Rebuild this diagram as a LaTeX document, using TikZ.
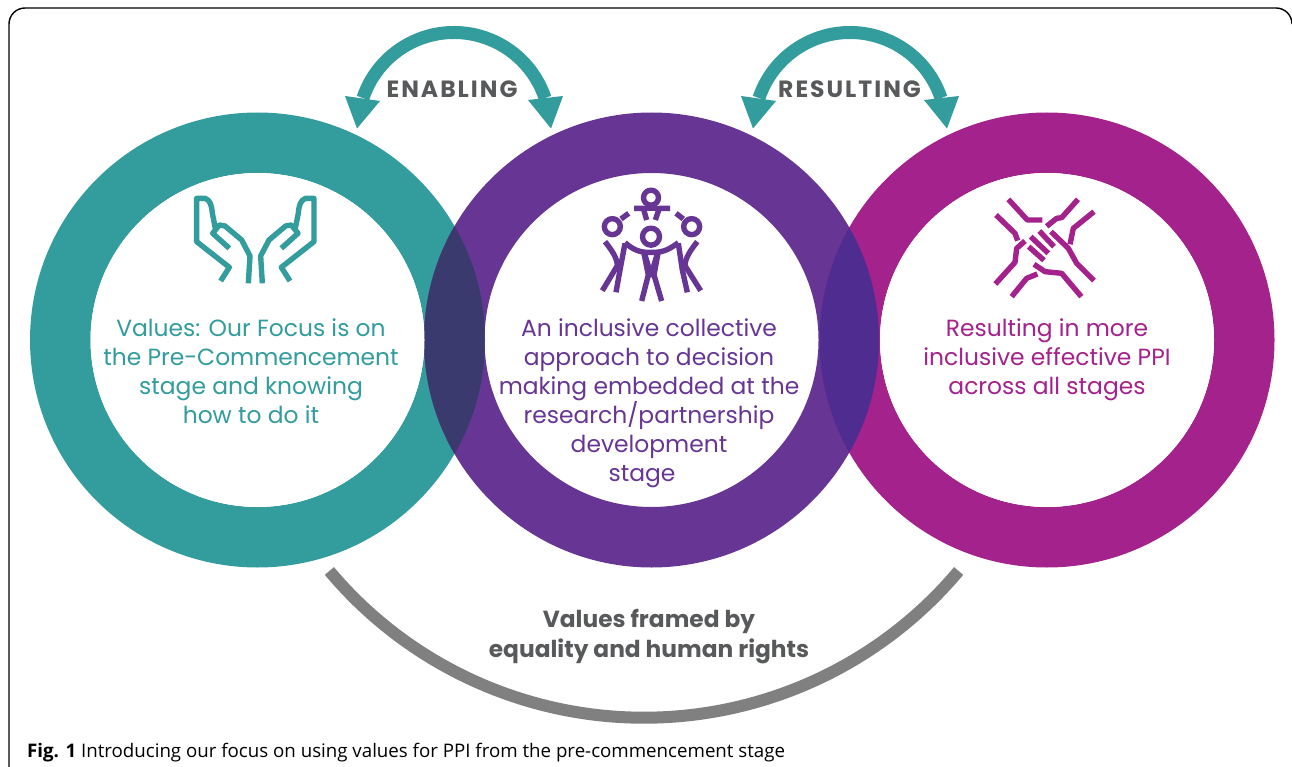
\documentclass[tikz,border=0pt]{standalone}
\usepackage{fontspec}
\setmainfont{Poppins}
\newfontfamily\capfont{Open Sans}
\newfontfamily\spacedfont[LetterSpace=8.5,BoldFont=Poppins Bold]{Poppins}
\definecolor{tealc}{HTML}{339C9C}
\definecolor{purpc}{HTML}{673695}
\definecolor{magc}{HTML}{A3228C}
\definecolor{tealpurp}{HTML}{3B3A6E}
\definecolor{purpmag}{HTML}{4F2C8F}
\definecolor{grayarc}{HTML}{808080}
\definecolor{graytext}{HTML}{58595B}
\tikzset{
  ringteal/.style={fill=tealc,even odd rule},
  ringpurp/.style={fill=purpc,even odd rule},
  ringmag/.style={fill=magc,even odd rule},
  bodytext/.style={align=center,inner sep=0pt,font=\fontsize{23.4}{29}\selectfont},
  labeltext/.style={align=center,inner sep=0pt,text=graytext,font=\fontsize{23.3}{30}\selectfont\bfseries},
  capstext/.style={inner sep=0pt,text=graytext,font=\spacedfont\fontsize{23.5}{30}\selectfont\bfseries},
  icon/.style={line width=5.4pt,line join=round,line cap=butt},
  bandarrow/.style={line width=13pt,tealc},
}
\begin{document}
\begin{tikzpicture}[x=1pt,y=-1pt]
\useasboundingbox (0,0) rectangle (1292,767);
\fill[white] (0,0) rectangle (1292,767);
% frame
\draw[line width=1.4pt,black] (9,767) -- (9,24) arc[start angle=180,end angle=90,radius=16pt] -- (1276,8) arc[start angle=90,end angle=0,radius=16pt];
% rings
\path[ringteal] (257.5,340) circle[radius=227.5pt] (257.5,340) circle[radius=167pt];
\path[ringpurp] (651.5,340) circle[radius=227.5pt] (651.5,340) circle[radius=167pt];
\path[ringmag] (1047,340) circle[radius=227.5pt] (1047,340) circle[radius=167pt];
\begin{scope}
\clip (257.5,340) circle[radius=227.5pt];
\fill[tealpurp,even odd rule] (651.5,340) circle[radius=227.5pt] (651.5,340) circle[radius=167pt];
\end{scope}
\begin{scope}
\clip (1047,340) circle[radius=227.5pt];
\fill[purpmag,even odd rule] (651.5,340) circle[radius=227.5pt] (651.5,340) circle[radius=167pt];
\end{scope}
% re-whiten the interior of the outer rings
\fill[white] (1047,340) circle[radius=167pt];
\fill[white] (257.5,340) circle[radius=167pt];
% band arrows
\foreach \dx/\nm in {0/a,396/b}{
\begin{scope}[xshift=\dx pt]
\coordinate (c\nm) at (454,128.5);
\draw[bandarrow] (c\nm) ++(161.5:96pt) arc[start angle=161.5,end angle=18.5,radius=96pt];
\fill[tealc] (345,96) -- (380,101) -- (357,128.5) -- cycle;
\fill[tealc] (528,100) -- (563,96) -- (551,128.5) -- cycle;
\end{scope}}
% gray arc
\coordinate (gc) at (644,307);
\draw[line width=12pt,grayarc] (gc) ++(220:410.7pt) arc[start angle=220,end angle=320,radius=410.7pt];
% text
\node[bodytext,text=tealc] (t1) at (251,371.5) {Values: Our Focus is on\\the Pre-Commencement\\stage and knowing\\how to do it};
\node[bodytext,text=purpc] (t2) at (649,403.5) {An inclusive collective\\approach to decision\\making embedded at the\\research/partnership\\development\\\hspace*{-14pt}stage};
\node[bodytext,text=magc] (t3) at (1047,359.5) {Resulting in more\\inclusive effective PPI\\across all stages};
\node[capstext] (l1) at (452,89) {ENABLING};
\node[capstext] (l2) at (849.5,89) {RESULTING};
\node[labeltext] (l3) at (649,636.5) {Values framed by\\equality and human rights};
\node[anchor=base west,inner sep=0pt,font=\capfont\fontsize{18.7}{24}\selectfont] (cap) at (27,757) {\textbf{Fig. 1} Introducing our focus on using values for PPI from the pre-commencement stage};
% hands icon
\begin{scope}[shift={(170,180)},x=0.3333pt,y=-0.3333pt,draw=tealc,icon]
\draw (152,303) -- (178,262) -- (80,185) -- (80,55) -- (105,55) .. controls (120,60) and (125,75) .. (127,100) -- (137,150);
\draw (178,205) -- (128,160) -- (148,135) -- (165,138) -- (215,180) -- (240,228) -- (235,310);
\draw (360,303) -- (334,262) -- (432,185) -- (432,55) -- (407,55) .. controls (392,60) and (387,75) .. (385,100) -- (375,150);
\draw (334,205) -- (384,160) -- (364,135) -- (347,138) -- (297,180) -- (272,228) -- (277,310);
\end{scope}
% people icon
\begin{scope}[shift={(580,175)},x=0.3333pt,y=-0.3333pt,draw=purpc,icon]
\draw (213,68) circle[radius=7.5pt];
\draw (97,155) circle[radius=8pt];
\draw (335,155) circle[radius=8pt];
\draw (213,185) circle[radius=8.5pt];
\draw (162,100) -- (190,100) -- (200,135);
\draw (270,100) -- (238,100) -- (226,135);
\draw (190,100) -- (238,100);
\draw (123,132) -- (146,115);
\draw (310,132) -- (288,115);
\draw (135,203) .. controls (160,225) and (180,232) .. (205,232) -- (222,232) .. controls (250,232) and (270,222) .. (295,203);
\draw (192,235) -- (205,300) -- (185,378);
\draw (234,235) -- (222,300) -- (245,378);
\draw (195,240) -- (213,300) -- (231,240);
\draw (75,200) .. controls (95,225) and (112,250) .. (112,272) -- (67,347);
\draw (135,205) -- (120,285) -- (108,352);
\draw (120,285) -- (112,272);
\draw (352,200) .. controls (332,225) and (315,250) .. (315,272) -- (362,347);
\draw (295,205) -- (307,285) -- (322,352);
\draw (307,285) -- (315,272);
\end{scope}
% joined hands icon
\begin{scope}[shift={(980,185)},x=0.3333pt,y=-0.3333pt,draw=magc,icon]
\draw (85,43) -- (142,105) -- (187,105);
\draw (48,90) -- (105,145) -- (113,167);
\draw (200,124) -- (230,100) -- (245,98) -- (294,43);
\draw (342,80) -- (280,130) -- (270,178);
\draw (213,140) -- (265,190) -- (290,235) -- (342,287);
\draw (135,168) -- (110,190) -- (105,232) -- (46,297);
\draw (162,238) -- (195,260) -- (245,265) -- (304,335);
\draw (172,267) -- (140,280) -- (95,335);
\draw (178,138) -- (222,185);
\draw (152,155) -- (205,205);
\draw (146,185) -- (192,226);
\end{scope}
\end{tikzpicture}
\end{document}
